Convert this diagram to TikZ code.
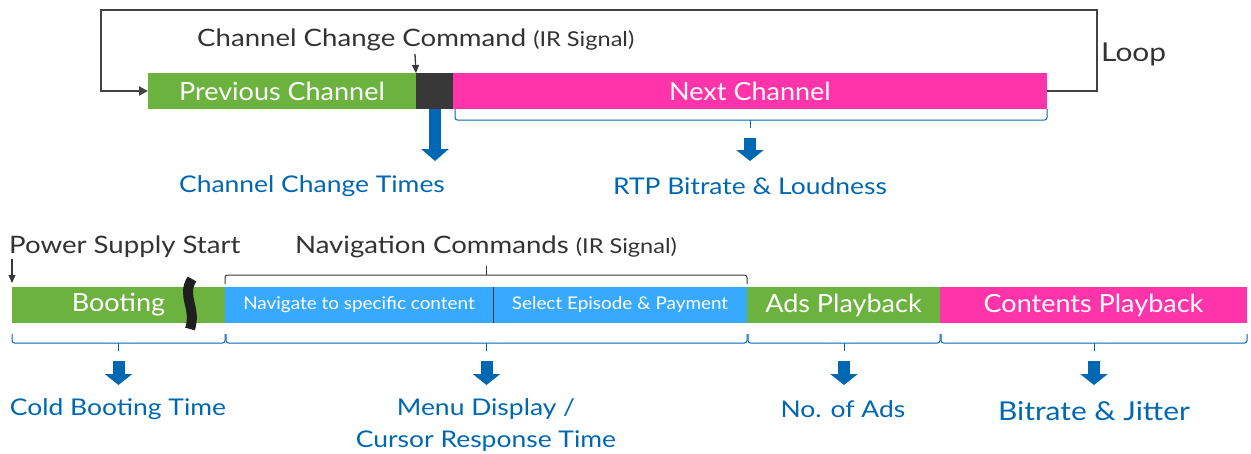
\documentclass[tikz,border=0pt]{standalone}
\usepackage{fontspec}
\setmainfont{Lato}[FakeStretch=1.15]
\newfontfamily\condfont{Lato}[FakeStretch=1.08]
\usetikzlibrary{arrows.meta}
\definecolor{cgreen}{RGB}{108,178,63}
\definecolor{cpink}{RGB}{255,51,170}
\definecolor{cblue}{RGB}{55,170,255}
\definecolor{cdark}{RGB}{56,56,56}
\definecolor{ctext}{RGB}{51,51,51}
\definecolor{cacc}{RGB}{0,103,178}
\begin{document}
\begin{tikzpicture}[x=1pt,y=-1pt,
  bar/.style={inner sep=0pt, outer sep=0pt, minimum height=36pt, text=white, font=\condfont\fontsize{25}{25}\selectfont},
  smallbar/.style={bar, font=\condfont\fontsize{17.5}{17.5}\selectfont},
  lbl/.style={inner sep=0pt, text=ctext, font=\fontsize{24}{24}\selectfont},
  res/.style={inner sep=0pt, text=cacc, font=\fontsize{23}{27}\selectfont, align=center},
  loopline/.style={draw=cdark!95, line width=2.2pt},
  thin/.style={draw=cdark, line width=1.3pt, -{Triangle[width=7pt,length=8pt]}},
  brc/.style={draw=cacc, line width=1pt, rounded corners=2.5pt},
  brcdark/.style={draw=cdark, line width=1pt, rounded corners=2.5pt},
  fat/.style={draw=cacc, line width=12pt, -{Triangle[width=27pt,length=12pt]}},
  fatsmall/.style={draw=cacc, line width=12pt, -{Triangle[width=27pt,length=11pt]}}
]
\useasboundingbox (0,0) rectangle (1251,453);

% ---------- top row ----------
\node[bar, fill=cgreen, minimum width=268pt] (prev) at (282,91) {Previous Channel};
\node[bar, fill=cdark, minimum width=37pt] (dark) at (434.5,91) {};
\node[bar, fill=cpink, minimum width=594pt] (next) at (750,91) {Next Channel};

\node[lbl, anchor=base west] (cmd) at (197,46) {Channel Change Command {\fontsize{20.5}{20.5}\selectfont(IR Signal)}};
\node[lbl, anchor=base west, font=\fontsize{26}{26}\selectfont] (loop) at (1101,61) {Loop};

\coordinate (lr) at (1097,10);
\coordinate (ll) at (101,10);
\draw[loopline, -{Triangle[width=9pt,length=9pt]}] (next.east) -| (lr) -- (ll) |- (prev.west);

\coordinate (cmdtop) at (415,54);
\draw[thin] (cmdtop) -- (prev.north east);

% fat arrow
\coordinate (fa1) at (435,109);
\coordinate (fa2) at (435,161);
\draw[fat] (fa1) -- (fa2);
\node[res] (cct) at (312,186) {Channel Change Times};

% brace under next
\draw[brc] (455,109) -- (455,120) -- (1047,120) -- (1047,109);
\draw[brc] (750,120) -- (750,128);
\coordinate (ra1) at (750,138);
\coordinate (ra2) at (750,161);
\draw[fatsmall] (ra1) -- (ra2);
\node[res] (rtp) at (750,186) {RTP Bitrate \& Loudness};

% ---------- bottom row ----------
\node[bar, fill=cgreen, minimum width=213pt] (boot) at (118.5,305) {Booting};
\node[smallbar, fill=cblue, minimum width=268pt] (nav1) at (359,305) {Navigate to specific content};
\node[smallbar, fill=cblue, minimum width=254pt] (nav2) at (620,305) {Select Episode \& Payment};
\node[bar, fill=cgreen, minimum width=193pt] (ads) at (843.5,305) {Ads Playback};
\node[bar, fill=cpink, minimum width=307pt] (cont) at (1093.5,305) {Contents Playback};
\draw[cdark, line width=1pt] (nav1.north east) -- (nav1.south east);

% break mark
\draw[black!88, line width=10pt] (192,279) .. controls (181,296) and (197,308) .. (190,329);

\node[lbl, anchor=base west] (pss) at (9,253) {Power Supply Start};
\coordinate (psstop) at (12,259);
\draw[thin] (psstop) -- (12,283);

\node[lbl, anchor=base] (navc) at (486,253) {Navigation Commands {\fontsize{20.5}{20.5}\selectfont(IR Signal)}};
\draw[brcdark] (225,284) -- (225,275) -- (747,275) -- (747,284);
\draw[brcdark] (486,275) -- (486,266);

% lower braces
\foreach \a/\b in {12/225, 226/747, 748/940, 941/1247}{
  \draw[brc] (\a,334) -- (\a,343) -- (\b,343) -- (\b,334);
  \draw[brc] ({(\a+\b)/2},343) -- ({(\a+\b)/2},351);
}
\foreach \m in {118.5,486.5,844,1094}{
  \draw[fatsmall] (\m,361) -- (\m,385);
}

\node[res] (cbt) at (118,409) {Cold Booting Time};
\node[res, font=\fontsize{23}{32}\selectfont] (menu) at (486,425) {Menu Display /\\Cursor Response Time};
\node[res] (ads2) at (843,409) {No. of Ads};
\node[res, font=\fontsize{26}{26}\selectfont] (bj) at (1094,411) {Bitrate \& Jitter};
\end{tikzpicture}
\end{document}
